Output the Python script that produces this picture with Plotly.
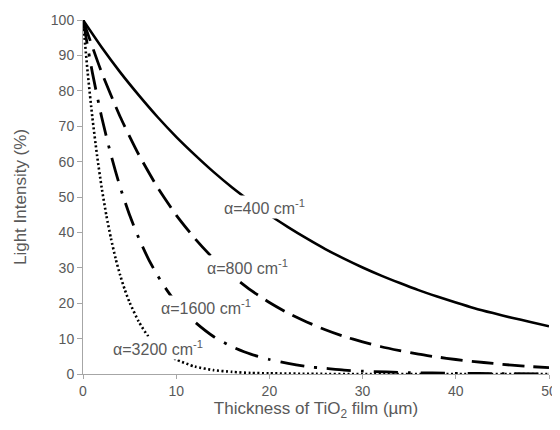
import plotly.graph_objects as go

# Thickness (um) and light intensity (%)
x_400 = [0, 2, 4, 6, 8, 10, 12, 14, 16, 18, 20, 22, 24, 26, 28, 30, 32, 34, 36, 38, 40, 42, 44, 46, 48, 50]
y_400 = [100, 92.3, 85.2, 78.7, 72.6, 67.0, 61.9, 57.1, 52.7, 48.7, 44.9, 41.5, 38.3, 35.3, 32.6, 30.1,
         27.8, 25.7, 23.7, 21.9, 20.2, 18.6, 17.2, 15.9, 14.7, 13.5]

x_800 = [0, 2, 4, 6, 8, 10, 12, 14, 16, 18, 20, 22, 24, 26, 28, 30, 32, 34, 36, 38, 40, 42, 44, 46, 48, 50]
y_800 = [100, 85.2, 72.6, 61.9, 52.7, 44.9, 38.3, 32.6, 27.8, 23.7, 20.2, 17.2, 14.7, 12.5, 10.6, 9.1,
         7.7, 6.6, 5.6, 4.8, 4.1, 3.5, 3.0, 2.5, 2.1, 1.8]

x_1600 = [0, 1, 2, 3, 4, 5, 6, 7, 8, 9, 10, 12, 14, 16, 18, 20, 22, 24, 26, 28, 30, 35, 40, 45, 50]
y_1600 = [100, 85.2, 72.6, 61.9, 52.7, 44.9, 38.3, 32.6, 27.8, 23.7, 20.2, 14.7, 10.6, 7.7, 5.6, 4.1,
          3.0, 2.1, 1.6, 1.1, 0.8, 0.4, 0.2, 0.1, 0.03]

x_3200 = [0, 0.5, 1, 1.5, 2, 2.5, 3, 3.5, 4, 4.5, 5, 6, 7, 8, 9, 10, 12, 14, 16, 18, 20, 25, 30, 40, 50]
y_3200 = [100, 85.2, 72.6, 61.9, 52.7, 44.9, 38.3, 32.6, 27.8, 23.7, 20.2, 14.7, 10.6, 7.7, 5.6, 4.1,
          2.1, 1.1, 0.6, 0.3, 0.2, 0.03, 0.0, 0.0, 0.0]

labels = ["α=400 cm<sup>-1</sup>", "α=800 cm<sup>-1</sup>", "α=1600 cm<sup>-1</sup>", "α=3200 cm<sup>-1</sup>"]
label_x = [19.5, 17.6, 13.2, 8.1]
label_y = [47.2, 30.2, 18.9, 7.3]

x_ticks = [0, 10, 20, 30, 40, 50]
y_ticks = [0, 10, 20, 30, 40, 50, 60, 70, 80, 90, 100]

FONT = "Liberation Sans, Arial, sans-serif"
gray = "#595959"

fig = go.Figure()
series = [
    (x_400, y_400, "solid", 2.6),
    (x_800, y_800, "22px,9px", 2.8),
    (x_1600, y_1600, "24px,10px,3px,10px", 2.8),
    (x_3200, y_3200, "2px,2.5px", 2.6),
]
for xs, ys, dash, w in series:
    fig.add_trace(go.Scatter(x=xs, y=ys, mode="lines",
                             line=dict(color="black", width=w, dash=dash, shape="spline", smoothing=0.6),
                             showlegend=False, hoverinfo="skip"))

for t, lx, ly in zip(labels, label_x, label_y):
    fig.add_annotation(x=lx, y=ly, text=t, showarrow=False, bgcolor="white", borderpad=1,
                       font=dict(family=FONT, size=16, color=gray))

# page body has an 8px margin, so the figure is sized/offset to compensate
fig.update_layout(
    width=552, height=422,
    margin=dict(l=75, r=11, t=12, b=56),
    plot_bgcolor="white", paper_bgcolor="white",
    font=dict(family=FONT, size=14, color=gray),
)
fig.update_xaxes(range=[0, 50], tickvals=x_ticks, showgrid=False, zeroline=False, automargin=False,
                 showline=True, linecolor="#a6a6a6", linewidth=1,
                 ticks="outside", ticklen=4, tickcolor="#a6a6a6",
                 title=dict(text="Thickness of TiO<sub>2</sub> film (µm)", standoff=4,
                            font=dict(family=FONT, size=17, color=gray)),
                 tickfont=dict(family=FONT, size=14, color=gray))
fig.update_yaxes(range=[0, 100], tickvals=y_ticks, showgrid=False, zeroline=False, automargin=False,
                 showline=True, linecolor="#a6a6a6", linewidth=1,
                 ticks="outside", ticklen=5, tickcolor="#a6a6a6",
                 title=dict(text="Light Intensity (%)", standoff=19,
                            font=dict(family=FONT, size=17, color=gray)),
                 tickfont=dict(family=FONT, size=14, color=gray))

fig.write_html("out.html")
